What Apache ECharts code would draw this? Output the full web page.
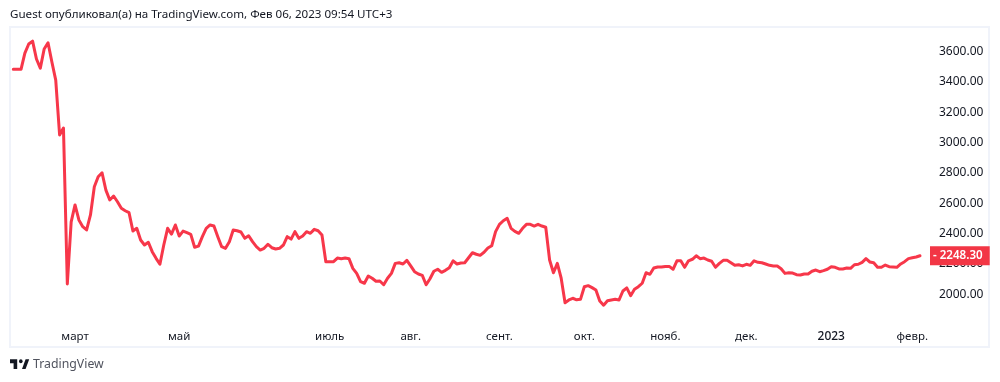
<!DOCTYPE html>
<html><head><meta charset="utf-8">
<style>html,body{margin:0;padding:0;background:#fff}#c{width:1000px;height:382px}</style>
<script src="https://cdn.jsdelivr.net/npm/echarts@6/dist/echarts.min.js"></script>
</head><body><div id="c"></div>
<script>
const prices=[3477,3477,3477,3584,3644,3663,3545,3485,3611,3652,3525,3406,3044,3090,2062,
2472,2583,2484,2440,2418,2517,2703,2769,2795,2681,2616,2642,2604,2561,2545,2532,2411,2429,2352,2319,2337,2275,2231,2192,2319,2429,2391,2451,2378,2411,2400,2389,2304,2312,2374,2429,2451,2444,2374,2308,2297,2341,2418,2413,2405,2363,2380,2341,2308,2286,2297,2324,2301,2293,2297,2319,2374,2358,2407,2363,2378,2407,2396,2422,2413,2385,2209,
2209,2209,2233,2229,2233,2229,2165,2132,2077,2067,2115,2100,2080,2082,2057,2100,2132,2198,2202,2194,2218,2181,2143,2128,2119,2057,2097,2146,2159,2139,2152,2169,2215,2194,2200,2202,2235,2268,2258,2251,2271,2299,2314,2407,2455,2479,2495,2429,2409,2396,2429,2455,2455,2444,2455,2444,2436,2220,2136,2198,2100,1939,1957,1968,1958,1961,2044,2051,2038,2022,1950,1922,1952,1957,1961,1957,2016,2036,1985,2027,2044,2067,2136,2126,2167,2174,
2174,2178,2178,2159,2215,2215,2172,2215,2225,2248,2229,2233,2220,2212,2172,2198,2218,2218,2202,2185,2189,2181,2192,2185,2215,2205,2202,2194,2185,2181,2181,2163,2132,2136,2134,2123,2121,2128,2128,2146,2154,2143,2150,2159,2176,2172,2161,2161,2167,2165,2189,2192,2205,2229,2207,2202,2172,2172,2187,2176,2174,2172,2194,2209,2229,2235,2240,2248.3];
const lastPrice=2248.30;
const monthNames=['март','май','июль','авг.','сент.','окт.','нояб.','дек.','2023','февр.'];
const monthSessions=[16,43,82,103,126,148,169,190,212,233];
const titleText='Guest опубликовал(а) на TradingView.com, Фев 06, 2023 09:54 UTC+3';
const sessions=prices.map((_,i)=>{const k=monthSessions.indexOf(i);return k>=0?monthNames[k]:'';});
const font='"Noto Sans", sans-serif';
const lineColor='#f7374a', tagColor='#f23645', ink='#131722', frame='#f0f3fa';
const chart=echarts.init(document.getElementById('c'),null,{renderer:'canvas'});
chart.setOption({
 animation:false,
 backgroundColor:'#fff',
 grid:{left:13.3,width:906.7,top:20.3,height:303.45},
 xAxis:{type:'category',data:sessions,boundaryGap:false,
  axisLine:{show:false},axisTick:{show:false},splitLine:{show:false},
  axisLabel:{interval:(i,v)=>v!=='',margin:7,fontFamily:font,fontSize:11.5,color:ink,hideOverlap:false,
   formatter:v=>v==='2023'?'{b|2023}':v,rich:{b:{fontFamily:font,fontSize:12,fontWeight:500,color:ink}}}},
 yAxis:{type:'value',position:'right',min:1800,max:3800,interval:200,offset:10,
  axisLine:{show:false},axisTick:{show:false},splitLine:{show:false},
  axisLabel:{margin:9,showMinLabel:false,showMaxLabel:false,align:'left',verticalAlign:'top',lineHeight:2,fontFamily:font,fontSize:12,color:ink,formatter:v=>v.toFixed(2)}},
 series:[{type:'line',data:prices,symbol:'none',clip:false,
  lineStyle:{color:lineColor,width:3,cap:'round',join:'round'},
  markLine:{silent:true,symbol:'none',lineStyle:{color:'transparent',width:0},data:[{yAxis:lastPrice}],
   label:{show:true,position:'end',distance:10,formatter:'- '+lastPrice.toFixed(2),color:'#fff',backgroundColor:tagColor,
    fontFamily:font,fontSize:11.6,fontWeight:600,padding:[3,7,3,3],lineHeight:13}}}],
 graphic:[
  {type:'rect',z:-1,shape:{x:10,y:27,width:979,height:320},style:{fill:'none',stroke:frame,lineWidth:2}},
  {type:'text',x:10,y:9,style:{text:titleText,font:'11.6px '+font,fill:ink}},
  {type:'group',x:8.8,y:355.4,scaleX:0.6,scaleY:0.645,children:[
   {type:'polygon',shape:{points:[[2,6],[14,6],[14,21],[8,21],[8,12],[2,12]]},style:{fill:ink}},
   {type:'polygon',shape:{points:[[28,21],[22,21],[28,6],[34,6]]},style:{fill:ink}},
   {type:'circle',shape:{cx:20,cy:9,r:3},style:{fill:ink}}
  ]},
  {type:'text',x:33,y:358,style:{text:'TradingView',font:'12.3px '+font,fill:'#50535e'}}
 ]
});
</script></body></html>
